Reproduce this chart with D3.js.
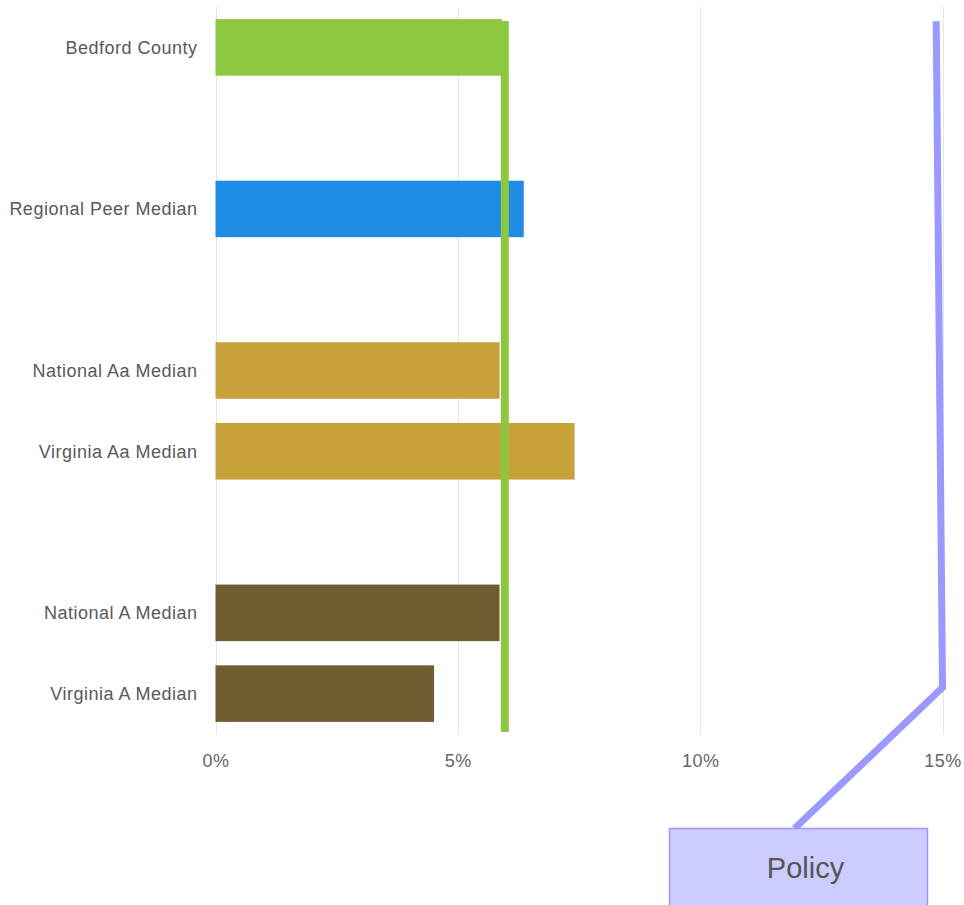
<!DOCTYPE html>
<html>
<head>
<meta charset="utf-8">
<script src="https://cdn.jsdelivr.net/npm/d3@7"></script>
<style>
  html, body { margin: 0; padding: 0; background: #fff; }
  svg { display: block; }
  text { font-family: "Liberation Sans", Arial, sans-serif; }
</style>
</head>
<body>
<svg id="chart" width="964" height="905"></svg>
<script>
// Row order, top to bottom; null marks an empty spacer row between groups
const categories = ["Bedford County", null, "Regional Peer Median", null,
  "National Aa Median", "Virginia Aa Median", null,
  "National A Median", "Virginia A Median"];
// Percent values for each non-empty row, in the same order
const values = [5.91, 6.36, 5.86, 7.41, 5.86, 4.51];
const barColors = ["#8dc63f", "#1f8ce3", "#c7a13a", "#c7a13a", "#715c31", "#715c31"];
// Bedford County reference line (percent)
const referenceValue = 5.97;
// Policy series: top and bottom points (percent)
const policyValues = [14.87, 15.0];
const policyLabel = "Policy";
const xTicks = [0, 5, 10, 15];

const svg = d3.select("#chart");
const margin = { left: 215.5, right: 21.5, top: 7, bottom: 171 };
const W = 964, H = 905;

const x = d3.scaleLinear().domain([0, 15]).range([margin.left, W - margin.right]);
const rowKeys = categories.map((c, i) => c === null ? "gap" + i : c);
const y = d3.scaleBand().domain(rowKeys).range([margin.top, H - margin.bottom])
  .paddingInner(0.3).paddingOuter(0.15);

const rows = categories.filter(c => c !== null)
  .map((c, i) => ({ name: c, value: values[i], color: barColors[i] }));

// vertical gridlines
svg.append("g").selectAll("line").data(xTicks).join("line")
  .attr("x1", d => Math.round(x(d)) + 0.5).attr("x2", d => Math.round(x(d)) + 0.5)
  .attr("y1", margin.top).attr("y2", H - margin.bottom)
  .attr("stroke", "#e5e5e5").attr("stroke-width", 1);

// x axis labels
const xAxis = d3.axisBottom(x).tickValues(xTicks).tickFormat(d => d + "%").tickSize(0).tickPadding(0);
const gx = svg.append("g").attr("transform", `translate(0,${H - margin.bottom})`).call(xAxis);
gx.select(".domain").remove();
gx.selectAll("text").attr("fill", "#666").attr("font-size", 18)
  .attr("letter-spacing", "0.5px")
  .attr("dy", null).attr("y", 33);

// category labels
const yAxis = d3.axisLeft(y).tickFormat(d => d.startsWith("gap") ? "" : d).tickSize(0).tickPadding(18);
const gy = svg.append("g").attr("transform", `translate(${margin.left},0)`).call(yAxis);
gy.select(".domain").remove();
gy.selectAll("text").attr("fill", "#595959").attr("font-size", 18)
  .attr("letter-spacing", "0.5px").attr("dy", "0.35em");

// bars
svg.append("g").selectAll("rect").data(rows).join("rect")
  .attr("x", x(0))
  .attr("y", d => y(d.name))
  .attr("width", d => x(d.value) - x(0))
  .attr("height", y.bandwidth())
  .attr("fill", d => d.color);

// Bedford County reference line
svg.append("line")
  .attr("x1", x(referenceValue)).attr("x2", x(referenceValue))
  .attr("y1", y(rowKeys[0]) + 2)
  .attr("y2", H - margin.bottom - 2)
  .attr("stroke", "#8dc63f").attr("stroke-width", 8);

// Policy callout
const boxX = 669.5, boxY = 828.5, boxW = 258, boxH = 90;
const lastKey = rowKeys[rowKeys.length - 1];
const policyPts = [
  [x(policyValues[0]), y(rowKeys[0]) + 2],
  [x(policyValues[1]), y(lastKey) + y.bandwidth() / 2 - 6],
  [boxX + 125, boxY]
];
svg.append("path")
  .attr("d", d3.line()(policyPts))
  .attr("fill", "none").attr("stroke", "#9999ff").attr("stroke-width", 7)
  .attr("stroke-linejoin", "miter");

svg.append("rect")
  .attr("x", boxX).attr("y", boxY).attr("width", boxW).attr("height", boxH)
  .attr("fill", "#ccccff").attr("stroke", "#9999ff").attr("stroke-width", 1.5);

svg.append("text")
  .attr("x", boxX + 136).attr("y", 878)
  .attr("text-anchor", "middle")
  .attr("font-size", 29).attr("fill", "#555")
  .text(policyLabel);
</script>
</body>
</html>
